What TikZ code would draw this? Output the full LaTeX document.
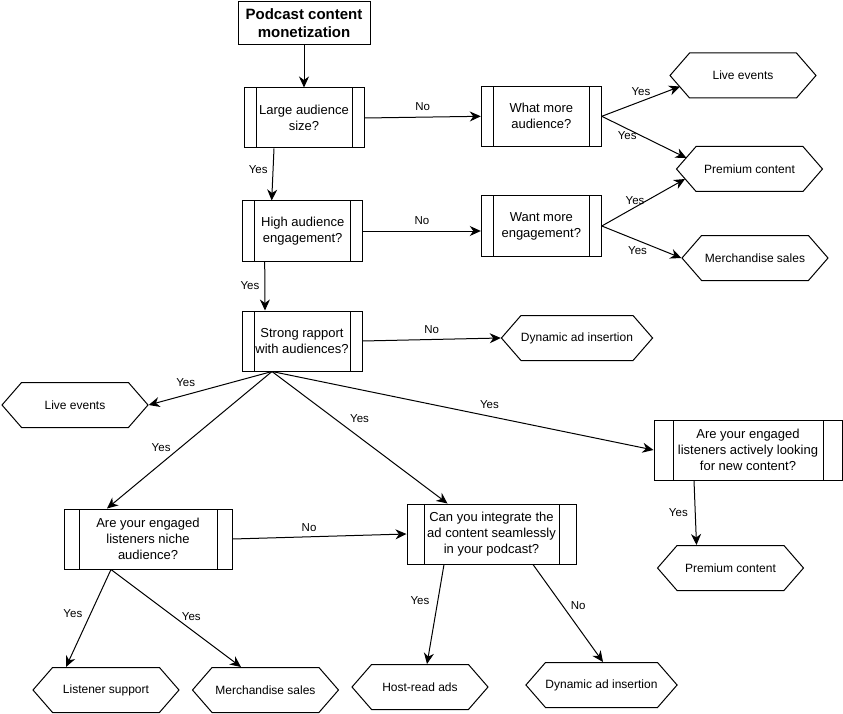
\documentclass[tikz,border=0pt]{standalone}
\usepackage{fontspec}
\setmainfont{Liberation Sans}
\usetikzlibrary{arrows.meta,shapes.symbols}

\begin{document}
\begin{tikzpicture}[x=1pt,y=-1pt,line width=1pt,
font=\fontsize{13}{16}\selectfont,
startbox/.style = {draw, minimum width=132, minimum height=43, align=center, inner sep=0,
    font=\bfseries\fontsize{15}{18}\selectfont},
proc/.style 2 args = {draw, minimum width=#1, minimum height=60, align=center, inner sep=0,
    path picture={\draw ([xshift=#2]path picture bounding box.north west) -- ([xshift=#2]path picture bounding box.south west)
        ([xshift=-#2]path picture bounding box.north east) -- ([xshift=-#2]path picture bounding box.south east);}},
hex/.style = {draw, signal, signal to=east and west, signal pointer angle=98,
    minimum width=146, minimum height=45, inner sep=0, font=\fontsize{12}{14}\selectfont},
arr/.style = {-{Stealth[length=11pt,width=10pt,inset=3.5pt]}},
lbl/.style = {font=\fontsize{11.5}{13}\selectfont, inner sep=2pt}]
\useasboundingbox (0,0) rectangle (843,714);

\node[startbox] (start) at (304,23.5) {Podcast content\\monetization};
\node[proc={120}{12}] (large) at (304,118) {Large audience\\size?};
\node[proc={120}{12}] (what) at (541.3,116.3) {What more\\audience?};
\node[proc={120}{12}] (high) at (302.7,231) {High audience\\engagement?};
\node[proc={120}{12}] (want) at (541.3,226) {Want more\\engagement?};
\node[proc={120}{12}] (strong) at (302,341) {Strong rapport\\with audiences?};
\node[proc={168}{15}] (niche) at (148,539) {Are your engaged\\listeners niche\\audience?};
\node[proc={169}{17}] (integ) at (491.5,534) {Can you integrate the\\ad content seamlessly\\in your podcast?};
\node[proc={188}{19}] (active) at (748,450) {Are your engaged\\listeners actively looking\\for new content?};

\node[hex] (live1) at (743,75.5) {Live events};
\node[hex] (prem1) at (749.5,169) {Premium content};
\node[hex] (merch1) at (755,258) {Merchandise sales};
\node[hex] (dyn1) at (577,338) {Dynamic ad insertion};
\node[hex] (live2) at (75,405) {Live events};
\node[hex] (prem2) at (730.5,568) {Premium content};
\node[hex] (support) at (106,690) {Listener support};
\node[hex] (merch2) at (265.5,690) {Merchandise sales};
\node[hex, minimum width=136] (host) at (420,687) {Host-read ads};
\node[hex] (dyn2) at (601.5,685) {Dynamic ad insertion};

\draw[arr] (start) -- (large);
\draw[arr] ([xshift=-30]large.south) -- node[lbl, left=3pt, pos=0.4] {Yes} ([xshift=-31]high.north);
\draw[arr] (large.east) -- node[lbl, above=4pt] {No} (what.west);
\draw[arr] (high.east) -- node[lbl, above=4pt] {No} ([yshift=-5]want.west);
\draw[arr] ([xshift=-38]high.south) -- node[lbl, left=3pt] {Yes} ([xshift=-37]strong.north);
\draw[arr] (strong.east) -- node[lbl, above=3pt] {No} (dyn1.west);
\draw[arr] (what.east) -- node[lbl, above=3pt] {Yes} ([shift={(-63,11)}]live1.center);
\draw[arr] (what.east) -- node[lbl, below, pos=0.3] {Yes} ([shift={(-63,-11)}]prem1.center);
\draw[arr] (want.east) -- node[lbl, above, pos=0.4] {Yes} ([shift={(-64.5,10)}]prem1.center);
\draw[arr] (want.east) -- node[lbl, below=4pt, pos=0.45] {Yes} (merch1.west);
\draw[arr] ([xshift=-30]strong.south) -- node[lbl, above=6pt, pos=0.7] {Yes} (live2.east);
\draw[arr] ([xshift=-30]strong.south) -- node[lbl, above left, pos=0.6] {Yes} ([xshift=-41]niche.north);
\draw[arr] ([xshift=-30]strong.south) -- node[lbl, above right=2pt, pos=0.42] {Yes} ([xshift=-44]integ.north);
\draw[arr] ([xshift=-30]strong.south) -- node[lbl, above=5pt, pos=0.57] {Yes} (active.west);
\draw[arr] (niche.east) -- node[lbl, above=3pt, pos=0.44] {No} (integ.west);
\draw[arr] ([xshift=-54]active.south) -- node[lbl, left=5pt] {Yes} ([xshift=-34]prem2.north);
\draw[arr] ([xshift=-37]niche.south) -- node[lbl, left=6pt, pos=0.45] {Yes} ([xshift=-40]support.north);
\draw[arr] ([xshift=-37]niche.south) -- node[lbl, right=6pt, pos=0.48] {Yes} ([xshift=-24.5]merch2.north);
\draw[arr] ([xshift=-47.5]integ.south) -- node[lbl, left=6pt, pos=0.36] {Yes} ([xshift=7]host.north);
\draw[arr] ([xshift=41.5]integ.south) -- node[lbl, right=6pt, pos=0.42] {No} ([xshift=1.5]dyn2.north);
\end{tikzpicture}
\end{document}
